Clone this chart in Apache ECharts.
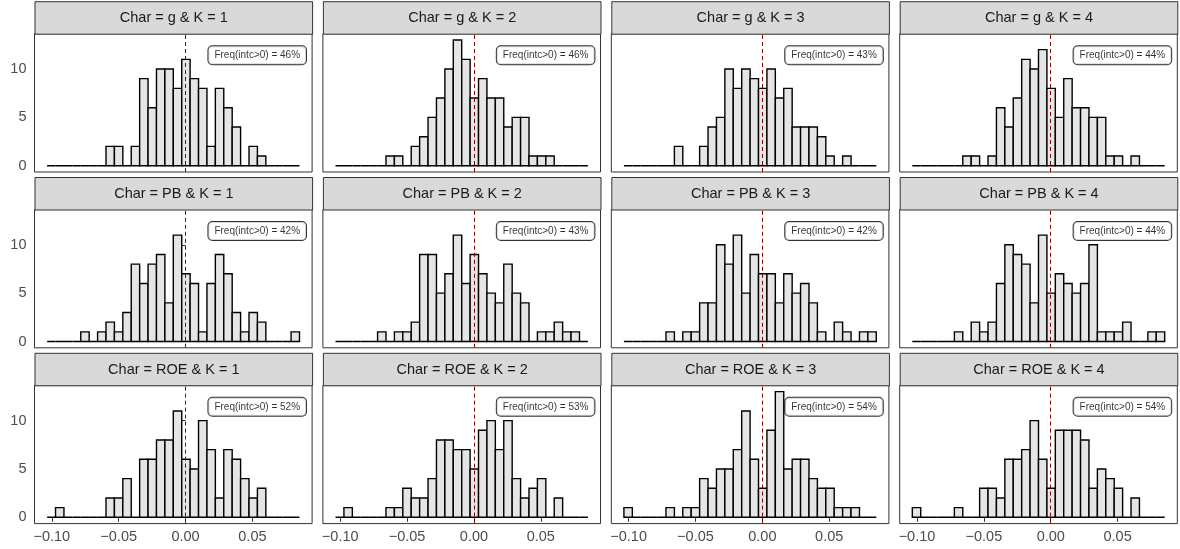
<!DOCTYPE html>
<html>
<head>
<meta charset="utf-8">
<script src="https://cdn.jsdelivr.net/npm/echarts@6/dist/echarts.min.js"></script>
<style>
  html, body { margin: 0; padding: 0; background: #ffffff; }
  #chart { width: 1180px; height: 549px; }
</style>
</head>
<body>
<div id="chart"></div>
<script>
// Facet structure: rows = characteristic, columns = K
const charNames = ['g', 'PB', 'ROE'];
const kValues = [1, 2, 3, 4];

// Histogram bins (30 equal-width bins shared by all panels)
const BIN_LOW = -0.1035;
const BIN_WIDTH = 0.00629;
const BIN_COUNT = 30;

// Counts per bin, one array per panel (row-major: g K1..K4, PB K1..K4, ROE K1..K4)
const countsG1   = [0,0,0,0,0,0,0,2,2,0,2,9,6,10,10,8,11,9,8,2,8,6,4,0,2,1,0,0,0,0];
const countsG2   = [0,0,0,0,0,0,1,1,0,2,3,5,7,10,13,11,7,9,7,7,4,5,5,1,1,1,0,0,0,0];
const countsG3   = [0,0,0,0,0,0,2,0,0,2,4,5,10,8,10,9,8,10,7,8,4,4,4,3,1,0,1,0,0,0];
const countsG4   = [0,0,0,0,0,0,1,1,0,1,6,4,7,11,10,12,8,5,9,6,6,5,5,1,1,0,1,0,0,0];
const countsPB1  = [0,0,0,0,1,0,1,2,1,3,8,6,8,9,4,11,7,6,1,6,9,7,3,1,3,2,0,0,0,1];
const countsPB2  = [0,0,0,0,0,1,0,1,1,2,9,9,5,7,11,6,9,7,5,4,8,5,4,0,1,1,2,1,1,0];
const countsPB3  = [0,0,0,0,0,1,0,1,1,4,4,10,8,11,5,9,7,7,4,7,5,6,4,1,0,2,1,0,1,1];
const countsPB4  = [0,0,0,0,0,1,0,2,1,2,6,10,9,8,4,11,5,7,6,5,6,10,1,1,1,2,0,0,1,1];
const countsROE1 = [0,1,0,0,0,0,0,2,2,4,0,6,6,8,8,11,6,5,10,7,2,7,6,4,2,3,0,0,0,0];
const countsROE2 = [0,1,0,0,0,0,1,1,3,2,2,4,8,8,7,7,5,9,10,7,10,4,2,3,4,0,2,0,0,0];
const countsROE3 = [1,0,0,0,0,1,0,1,1,4,3,5,5,7,11,6,3,9,13,5,6,6,4,3,3,1,1,1,0,0];
const countsROE4 = [1,0,0,0,0,1,0,0,3,3,2,6,6,7,10,6,3,9,9,9,8,3,5,4,3,0,2,0,0,0];

// Share of positive intercepts, in percent, same panel order
const positiveShare = [46, 46, 43, 44, 42, 43, 42, 44, 52, 53, 54, 54];

// Axis ticks
const xTickValues = [-0.10, -0.05, 0.00, 0.05];
const yTickValues = [0, 5, 10];

// Reference line and annotation anchor (data units)
const REF_X = 0;
const NOTE_X = 0.0536;
const NOTE_Y = 11.43;

const panelCounts = [
  countsG1, countsG2, countsG3, countsG4,
  countsPB1, countsPB2, countsPB3, countsPB4,
  countsROE1, countsROE2, countsROE3, countsROE4
];

// ---- layout (pixels) ----
const PANEL_LEFT = 34.5, COL_STEP = 288.4, PANEL_W = 277.6;
const PANEL_TOP = 33.7, ROW_STEP = 175.8, PANEL_H = 138.3;
const STRIP_H = 32.5;
const FONT = '"Liberation Sans", Arial, Helvetica, sans-serif';

const X_MIN = BIN_LOW - 1.5 * BIN_WIDTH;
const X_MAX = BIN_LOW + (BIN_COUNT + 1.5) * BIN_WIDTH;
const Y_MIN = -0.65, Y_MAX = 13.65;

function fmtX(v) {
  const s = Math.abs(v).toFixed(2);
  return (v < -1e-9 ? '\u2212' : '') + s;
}

const grids = [], xAxes = [], yAxes = [], series = [], graphics = [];

charNames.forEach((ch, r) => {
  kValues.forEach((k, c) => {
    const idx = r * kValues.length + c;
    const left = PANEL_LEFT + c * COL_STEP;
    const top = PANEL_TOP + r * ROW_STEP;
    const isBottom = r === charNames.length - 1;
    const isLeft = c === 0;

    grids.push({
      left: left, top: top, width: PANEL_W, height: PANEL_H,
      show: true, borderColor: '#333333', borderWidth: 1, backgroundColor: '#ffffff',
      containLabel: false
    });

    xAxes.push({
      type: 'value', gridIndex: idx, min: X_MIN, max: X_MAX,
      axisLine: { show: false },
      splitLine: { show: false },
      axisTick: {
        show: isBottom, length: 4.5, customValues: xTickValues,
        lineStyle: { color: '#333333', width: 1 }
      },
      axisLabel: {
        show: isBottom, customValues: xTickValues, formatter: fmtX,
        color: '#4D4D4D', fontSize: 14.5, fontFamily: FONT, margin: 6
      }
    });

    yAxes.push({
      type: 'value', gridIndex: idx, min: Y_MIN, max: Y_MAX,
      axisLine: { show: false },
      splitLine: { show: false },
      axisTick: {
        show: isLeft, length: 4.5, customValues: yTickValues,
        lineStyle: { color: '#333333', width: 1 }
      },
      axisLabel: {
        show: isLeft, customValues: yTickValues,
        color: '#4D4D4D', fontSize: 14.5, fontFamily: FONT, margin: 8
      }
    });

    const bars = panelCounts[idx].map((n, i) => [
      BIN_LOW + i * BIN_WIDTH, BIN_LOW + (i + 1) * BIN_WIDTH, n
    ]);

    series.push({
      type: 'custom',
      xAxisIndex: idx, yAxisIndex: idx,
      data: bars,
      encode: { x: [0, 1], y: 2 },
      renderItem: function (params, api) {
        const p0 = api.coord([api.value(0), 0]);
        const p1 = api.coord([api.value(1), api.value(2)]);
        return {
          type: 'rect',
          shape: { x: p0[0], y: p1[1], width: p1[0] - p0[0], height: p0[1] - p1[1] },
          style: { fill: '#E5E5E5', stroke: '#000000', lineWidth: 1.4 }
        };
      },
      markLine: {
        silent: true, symbol: ['none', 'none'], animation: false,
        label: { show: false },
        lineStyle: { color: '#8B0000', type: [4, 3], width: 1 },
        data: [{ xAxis: REF_X }]
      },
      z: 2
    });

    series.push({
      type: 'scatter',
      xAxisIndex: idx, yAxisIndex: idx,
      data: [[NOTE_X, NOTE_Y]],
      symbolSize: 1,
      itemStyle: { color: 'rgba(0,0,0,0)' },
      silent: true,
      z: 5,
      label: {
        show: true, position: 'inside',
        formatter: 'Freq(intc>0) = ' + positiveShare[idx] + '%',
        fontFamily: FONT, fontSize: 10, color: '#000000',
        backgroundColor: '#ffffff', borderColor: '#000000', borderWidth: 1,
        borderRadius: 4, padding: [4, 6, 4, 6]
      }
    });

    // facet strip
    graphics.push({
      type: 'group',
      left: left, top: top - STRIP_H,
      children: [
        {
          type: 'rect',
          shape: { x: 0, y: 0, width: PANEL_W, height: STRIP_H },
          style: { fill: '#D9D9D9', stroke: '#333333', lineWidth: 1 }
        },
        {
          type: 'text',
          x: PANEL_W / 2, y: STRIP_H / 2,
          style: {
            text: 'Char = ' + ch + ' & K = ' + k,
            fill: '#1A1A1A', font: '14.5px ' + FONT,
            align: 'center', verticalAlign: 'middle'
          }
        }
      ]
    });
  });
});

const chart = echarts.init(document.getElementById('chart'), null, { renderer: 'canvas' });
chart.setOption({
  animation: false,
  backgroundColor: '#ffffff',
  grid: grids,
  xAxis: xAxes,
  yAxis: yAxes,
  series: series,
  graphic: graphics
});
</script>
</body>
</html>
